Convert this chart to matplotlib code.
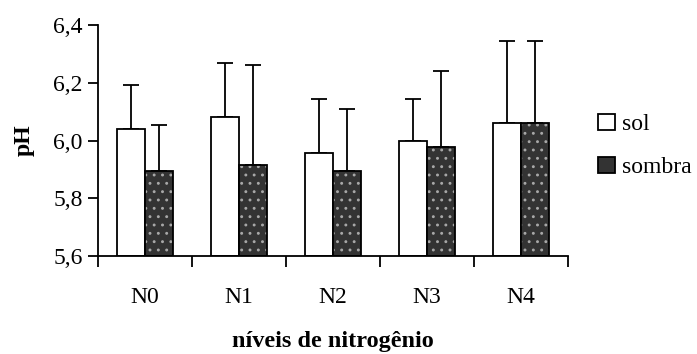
import matplotlib
matplotlib.use("Agg")
import matplotlib.pyplot as plt
from matplotlib.patches import Rectangle
import numpy as np

categories = ["N0", "N1", "N2", "N3", "N4"]
sol = [6.04, 6.08, 5.956, 5.997, 6.06]
sol_err = [0.152, 0.187, 0.187, 0.146, 0.285]
sombra = [5.894, 5.914, 5.894, 5.976, 6.06]
sombra_err = [0.159, 0.347, 0.214, 0.265, 0.285]
yticks = [5.6, 5.8, 6.0, 6.2, 6.4]
ytick_labels = ["5,6", "5,8", "6,0", "6,2", "6,4"]

plt.rcParams['font.family'] = ['Liberation Serif', 'DejaVu Serif']
FS = 17

fig = plt.figure(figsize=(6.97, 3.54), dpi=100)
ax = fig.add_axes([98/697, 1-256/354, 470/697, 231/354])

x = np.arange(len(categories))
w = 0.3
base = 5.6
ax.bar(x - w/2, np.array(sol) - base, w, bottom=base, facecolor='white',
       edgecolor='black', linewidth=1.3, zorder=2)
ax.errorbar(x - w/2, sol, yerr=[np.zeros(5), sol_err], fmt='none', ecolor='black',
            elinewidth=1.3, capsize=6, capthick=1.3, zorder=1)
plt.rcParams['hatch.linewidth'] = 0.9
ax.bar(x + w/2, np.array(sombra) - base, w, bottom=base, facecolor='#333333',
       edgecolor='#a8a8a8', hatch='..', linewidth=0, zorder=2)
ax.bar(x + w/2, np.array(sombra) - base, w, bottom=base, fill=False,
       edgecolor='black', linewidth=1.3, zorder=3)
ax.errorbar(x + w/2, sombra, yerr=[np.zeros(5), sombra_err], fmt='none', ecolor='black',
            elinewidth=1.3, capsize=6, capthick=1.3, zorder=1)

ax.set_xlim(-0.5, 4.5)
ax.set_ylim(5.6, 6.4)
ax.set_yticks(yticks)
ax.set_yticklabels(ytick_labels, fontsize=FS)
ax.set_xticks(x)
ax.set_xticklabels(categories, fontsize=FS)
ax.tick_params(axis='x', which='major', length=0, pad=22)
ax.set_xticks(np.arange(-0.5, 5.0, 1.0), minor=True)
ax.tick_params(axis='x', which='minor', length=8, width=1.3, direction='out')
ax.tick_params(axis='y', length=7, width=1.3, direction='out', pad=4)
for s in ['top', 'right']:
    ax.spines[s].set_visible(False)
for s in ['left', 'bottom']:
    ax.spines[s].set_linewidth(1.3)

ax.set_ylabel("pH", fontsize=FS, fontweight='bold', labelpad=13)
ax.set_xlabel("níveis de nitrogênio", fontsize=17.5, fontweight='bold', labelpad=17)

# legend
p1 = Rectangle((0, 0), 1, 1, facecolor='white', edgecolor='black', linewidth=1.3)
p2 = Rectangle((0, 0), 1, 1, facecolor='#333333', edgecolor='black', linewidth=1.3)
leg = fig.legend([p1, p2], ["sol", "sombra"], loc='center left',
                 bbox_to_anchor=(598/697, 1-146/354), frameon=False,
                 fontsize=FS, handlelength=0.7, handleheight=0.7,
                 handletextpad=0.3, labelspacing=0.9, borderaxespad=0, borderpad=0)

fig.savefig("out.png", dpi=100)
